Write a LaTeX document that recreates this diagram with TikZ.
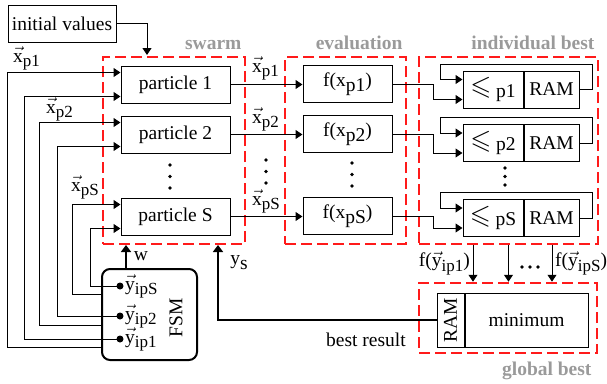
\documentclass[tikz,border=0pt]{standalone}
\usepackage{fontspec}
\setmainfont{Liberation Serif}
\usepackage{amssymb}
\usetikzlibrary{arrows.meta, positioning}
\definecolor{groupred}{HTML}{FF1A1A}
\definecolor{labelgray}{HTML}{9A9A9A}
\newcommand{\picfont}{\fontsize{19.5}{22}\selectfont}
\newcommand{\lowsub}[1]{\raisebox{-0.25em}{#1}}
\newcommand{\smallsub}[1]{\raisebox{-0.25em}{\fontsize{17}{20}\selectfont #1}}
\newcommand{\vx}[1]{$\vec{\mbox{x}}$\smallsub{#1}}
\newcommand{\vy}[1]{$\vec{\mbox{y}}$\smallsub{#1}}
\newcommand{\lesign}{{\fontsize{27}{27}\selectfont$\leqslant$}}

\begin{document}
\begin{tikzpicture}[x=1pt, y=-1pt, font=\picfont,
  blockbox/.style={draw, line width=1pt, inner sep=1pt, minimum height=37pt},
  groupbox/.style={draw=groupred, line width=2.5pt, dash pattern=on 11pt off 5pt},
  grouplabel/.style={text=labelgray, font=\picfont\bfseries, anchor=base east},
  veclabel/.style={anchor=base west, inner sep=0pt},
  arrow/.style={-{Triangle[length=7pt, width=9pt]}, line width=1pt},
  thickarrow/.style={-{Triangle[length=7pt, width=10pt]}, line width=2pt},
  tap/.style={circle, fill, inner sep=0pt, minimum size=7pt}
]
\useasboundingbox (0,0) rectangle (607,383);

\node[groupbox, minimum width=142pt, minimum height=187pt] (swarm) at (174,150.5) {};
\node[groupbox, minimum width=121pt, minimum height=187pt] (eval) at (345.5,150.5) {};
\node[groupbox, minimum width=179pt, minimum height=187pt] (indiv) at (508.5,150.5) {};
\node[groupbox, minimum width=178pt, minimum height=70pt] (glob) at (508,318) {};

\node[grouplabel] (swarmlbl) at (245,49) {swarm};
\node[grouplabel] (evallbl) at (406,49) {evaluation};
\node[grouplabel] (indivlbl) at (598,49) {individual best};
\node[grouplabel] (globlbl) at (595,375) {global best};

\node[blockbox, minimum width=108pt, inner sep=0pt] (init) at (62,23.5) {initial values};

\node[blockbox, minimum width=109pt] (part1) at (175.5,84.5) {particle 1};
\node[blockbox, minimum width=109pt] (part2) at (175.5,134.5) {particle 2};
\node[blockbox, minimum width=109pt] (partS) at (175.5,216.5) {particle S};

\node[blockbox, minimum width=89pt] (eval1) at (347.5,84) {f(x\lowsub{p1})};
\node[blockbox, minimum width=89pt] (eval2) at (347.5,134) {f(x\lowsub{p2})};
\node[blockbox, minimum width=89pt] (evalS) at (347.5,216) {f(x\lowsub{pS})};

\node[blockbox, minimum width=60pt] (cmp1) at (493,89.5) {\lesign\ \raisebox{-0.15em}{p1}};
\node[blockbox, minimum width=55pt, right=0pt of cmp1] (ram1) {RAM};
\node[blockbox, minimum width=60pt] (cmp2) at (493,143) {\lesign\ \raisebox{-0.15em}{p2}};
\node[blockbox, minimum width=55pt, right=0pt of cmp2] (ram2) {RAM};
\node[blockbox, minimum width=60pt] (cmpS) at (493,218) {\lesign\ \raisebox{-0.15em}{pS}};
\node[blockbox, minimum width=55pt, right=0pt of cmpS] (ramS) {RAM};

\node[blockbox, minimum width=27pt, minimum height=54pt] (ramg) at (450.5,320) {\rotatebox{90}{RAM}};
\node[blockbox, minimum width=123pt, minimum height=54pt, right=0pt of ramg] (minimum) {minimum};

\node[draw, rounded corners=8pt, line width=2pt, minimum width=95pt, minimum height=91pt] (fsm) at (149.5,314.5) {};
\node[rotate=90] (fsmlbl) at (176,318) {FSM};
\node[tap] (tapS) at (120,286) {};
\node[tap] (tap2) at (120,316) {};
\node[tap] (tap1) at (120,339) {};
\node[veclabel] (ylblS) at (125,290) {\vy{ipS}};
\node[veclabel] (ylbl2) at (125,320) {\vy{ip2}};
\node[veclabel] (ylbl1) at (125,343) {\vy{ip1}};

\node[veclabel] (xlbl1) at (13,62) {\vx{p1}};
\node[veclabel] (xlbl2) at (46,113) {\vx{p2}};
\node[veclabel] (xlblS) at (71,191) {\vx{pS}};
\node[veclabel] (xmid1) at (252,72) {\vx{p1}};
\node[veclabel] (xmid2) at (252,123) {\vx{p2}};
\node[veclabel] (xmidS) at (252,205) {\vx{pS}};

\node (wlbl) at (141,256) {w};
\node (yslbl) at (239,263) {y\lowsub{s}};
\node[anchor=base east, inner sep=0pt] (bestlbl) at (406,346) {best result};
\node[anchor=east, inner sep=0pt] (fylbl1) at (470,263) {f(\vy{ip1})};
\node[anchor=west, inner sep=0pt] (fylblS) at (555,263) {f(\vy{ipS})};

\coordinate (initin) at (147,55);
\coordinate (win) at (126,245);
\coordinate (ysin) at (218,245);

\draw[arrow] (init.east) -| (initin);

\draw[arrow] ([yshift=-32.5pt]fsm.west) -- ++(-94,0) |- ([yshift=12pt]part1.west);
\draw[arrow] (tap1.center) -- ++(-96,0) |- ([yshift=-12pt]part1.west);
\draw[arrow] ([yshift=-10.5pt]fsm.west) -- ++(-62,0) |- ([yshift=12pt]part2.west);
\draw[arrow] (tap2.center) -- ++(-63,0) |- ([yshift=-12pt]part2.west);
\draw[arrow] ([yshift=20.5pt]fsm.west) -- ++(-29,0) |- ([yshift=12pt]partS.west);
\draw[arrow] (tapS.center) -- ++(-30,0) |- ([yshift=-12pt]partS.west);

\draw[arrow] (part1.east) -- (part1.east -| eval1.west);
\draw[arrow] (part2.east) -- (part2.east -| eval2.west);
\draw[arrow] (partS.east) -- (partS.east -| evalS.west);

\draw[arrow] (eval1.east) -- ++(41,0) |- ([yshift=-10pt]cmp1.west);
\draw[arrow] (eval2.east) -- ++(41,0) |- ([yshift=-10pt]cmp2.west);
\draw[arrow] (evalS.east) -- ++(41,0) |- ([yshift=-10pt]cmpS.west);

\draw[arrow] (ram1.east) -- ++(13,0) |- ([xshift=-22pt, yshift=25.5pt]cmp1.west) |- ([yshift=10pt]cmp1.west);
\draw[arrow] (ram2.east) -- ++(13,0) |- ([xshift=-22pt, yshift=25.5pt]cmp2.west) |- ([yshift=10pt]cmp2.west);
\draw[arrow] (ramS.east) -- ++(13,0) |- ([xshift=-22pt, yshift=25.5pt]cmpS.west) |- ([yshift=10pt]cmpS.west);

\draw[arrow] ([xshift=-35.5pt]indiv.south) -- ([xshift=-35pt]glob.north);
\draw[arrow] (indiv.south) -- (indiv.south |- glob.north);
\draw[arrow] ([xshift=43.5pt]indiv.south) -- ([xshift=44pt]glob.north);

\draw[thickarrow] (win |- fsm.north) -- (win);
\draw[thickarrow] (ramg.west) -| (ysin);

\foreach \dy in {0,11.5,23} {
  \fill (170,165+\dy) circle (1.8pt);
  \fill (266,160+\dy) circle (1.8pt);
  \fill (352,163+\dy) circle (1.8pt);
}
\foreach \dy in {0,8.5,17} \fill (505,168+\dy) circle (1.8pt);
\foreach \dx in {0,8,16} \fill (522+\dx,267) circle (1.8pt);
\end{tikzpicture}
\end{document}
